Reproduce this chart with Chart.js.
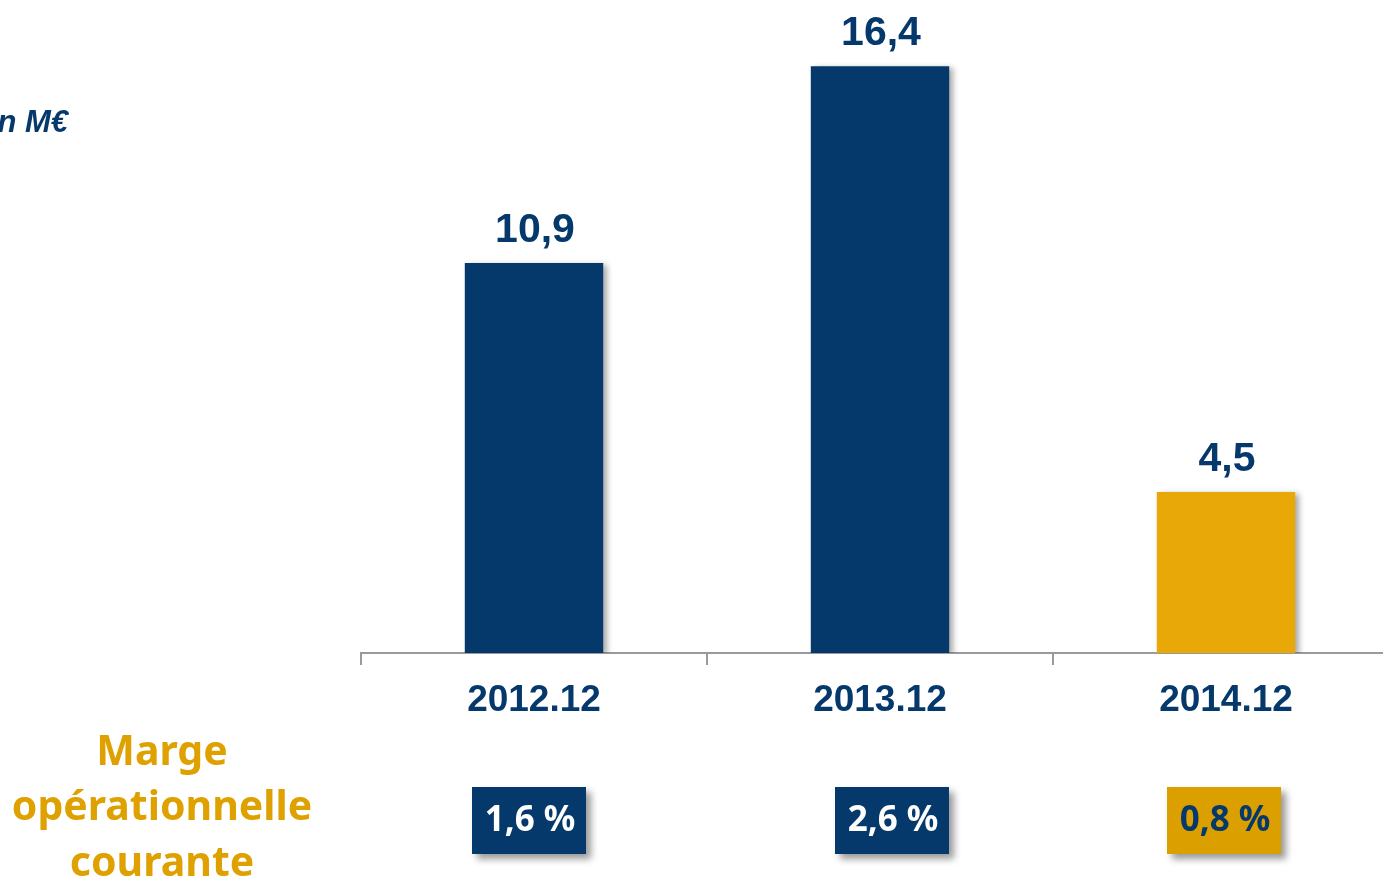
<!DOCTYPE html>
<html>
<head>
<meta charset="utf-8">
<script src="https://cdn.jsdelivr.net/npm/chart.js@4"></script>
<style>
  html, body { margin: 0; padding: 0; background: #ffffff; overflow: hidden; }
  #wrap { position: relative; width: 1400px; height: 881px; }
</style>
</head>
<body>
<div id="wrap"><canvas id="c" width="1400" height="881"></canvas></div>
<script>
// ---- data ----
const categories = ['2012.12', '2013.12', '2014.12'];
const values = [10.9, 16.4, 4.5];
const valueLabels = ['10,9', '16,4', '4,5'];
const marginLabels = ['1,6 %', '2,6 %', '0,8 %'];
const unitLabel = 'en M€';
const marginTitle = ['Marge', 'opérationnelle', 'courante'];

// ---- styles / layout ----
const NAVY = '#06396B';
const GOLD_BAR = '#E8A808';
const GOLD_BOX = '#DBA000';
const GOLD_TEXT = '#DFA100';
const barColors = [NAVY, NAVY, GOLD_BAR];
const boxColors = [NAVY, NAVY, GOLD_BOX];
const boxTextColors = ['#FFFFFF', '#FFFFFF', NAVY];
const boxShift = [-5, 12, -2];

const shadowPlugin = {
  id: 'barShadow',
  beforeDatasetsDraw(chart) {
    const ctx = chart.ctx;
    ctx.save();
    ctx.shadowColor = 'rgba(0,0,0,0.35)';
    ctx.shadowBlur = 6;
    ctx.shadowOffsetX = 4;
    ctx.shadowOffsetY = 2;
  },
  afterDatasetsDraw(chart) {
    chart.ctx.restore();
  }
};

const extrasPlugin = {
  id: 'extras',
  afterDraw(chart) {
    const ctx = chart.ctx;
    const meta = chart.getDatasetMeta(0);
    const xs = chart.scales.x;
    ctx.save();
    // value labels above bars
    ctx.fillStyle = NAVY;
    ctx.font = 'bold 41px "Liberation Sans", Arial, sans-serif';
    ctx.textAlign = 'center';
    ctx.textBaseline = 'alphabetic';
    meta.data.forEach((bar, i) => {
      ctx.fillText(valueLabels[i], bar.x + 1, bar.y - 21);
    });
    // unit label (clipped at left edge)
    ctx.font = 'italic bold 31px "Liberation Sans", Arial, sans-serif';
    ctx.textAlign = 'right';
    ctx.fillText(unitLabel, 68, 132);
    // margin title
    ctx.fillStyle = GOLD_TEXT;
    ctx.font = 'bold 41px "Noto Sans", sans-serif';
    ctx.textAlign = 'center';
    ctx.textBaseline = 'middle';
    marginTitle.forEach((t, i) => {
      ctx.fillText(t, 162, 753 + i * 55.5);
    });
    // margin boxes
    const bw = 114, bh = 67, by = 787;
    categories.forEach((c, i) => {
      const cx = xs.getPixelForValue(i) + boxShift[i];
      ctx.save();
      ctx.shadowColor = 'rgba(0,0,0,0.4)';
      ctx.shadowBlur = 7;
      ctx.shadowOffsetX = 5;
      ctx.shadowOffsetY = 5;
      ctx.fillStyle = boxColors[i];
      ctx.fillRect(cx - bw / 2, by, bw, bh);
      ctx.restore();
      ctx.fillStyle = boxTextColors[i];
      ctx.font = 'bold 35px "Noto Sans", sans-serif';
      ctx.textAlign = 'center';
      ctx.textBaseline = 'middle';
      ctx.fillText(marginLabels[i], cx + 1, by + bh / 2 + 1);
    });
    ctx.restore();
  }
};

new Chart(document.getElementById('c'), {
  type: 'bar',
  data: {
    labels: categories,
    datasets: [{
      data: values,
      backgroundColor: barColors,
      borderWidth: 0,
      categoryPercentage: 0.4,
      barPercentage: 1.0
    }]
  },
  options: {
    responsive: false,
    animation: false,
    layout: { padding: { left: 361, right: 1, top: 9, bottom: 0 } },
    plugins: { legend: { display: false }, tooltip: { enabled: false } },
    scales: {
      y: { display: false, min: 0, max: 18 },
      x: {
        afterFit(scale) { scale.height = 228; },
        border: { display: true, color: '#9A9A9A', width: 2 },
        grid: {
          display: true, drawOnChartArea: false, drawTicks: true,
          tickLength: 12, color: '#9A9A9A', lineWidth: 2, offset: true
        },
        ticks: {
          color: NAVY,
          padding: 14,
          font: { family: '"Liberation Sans", Arial, sans-serif', size: 37, weight: 'bold' }
        }
      }
    }
  },
  plugins: [shadowPlugin, extrasPlugin]
});
</script>
</body>
</html>
